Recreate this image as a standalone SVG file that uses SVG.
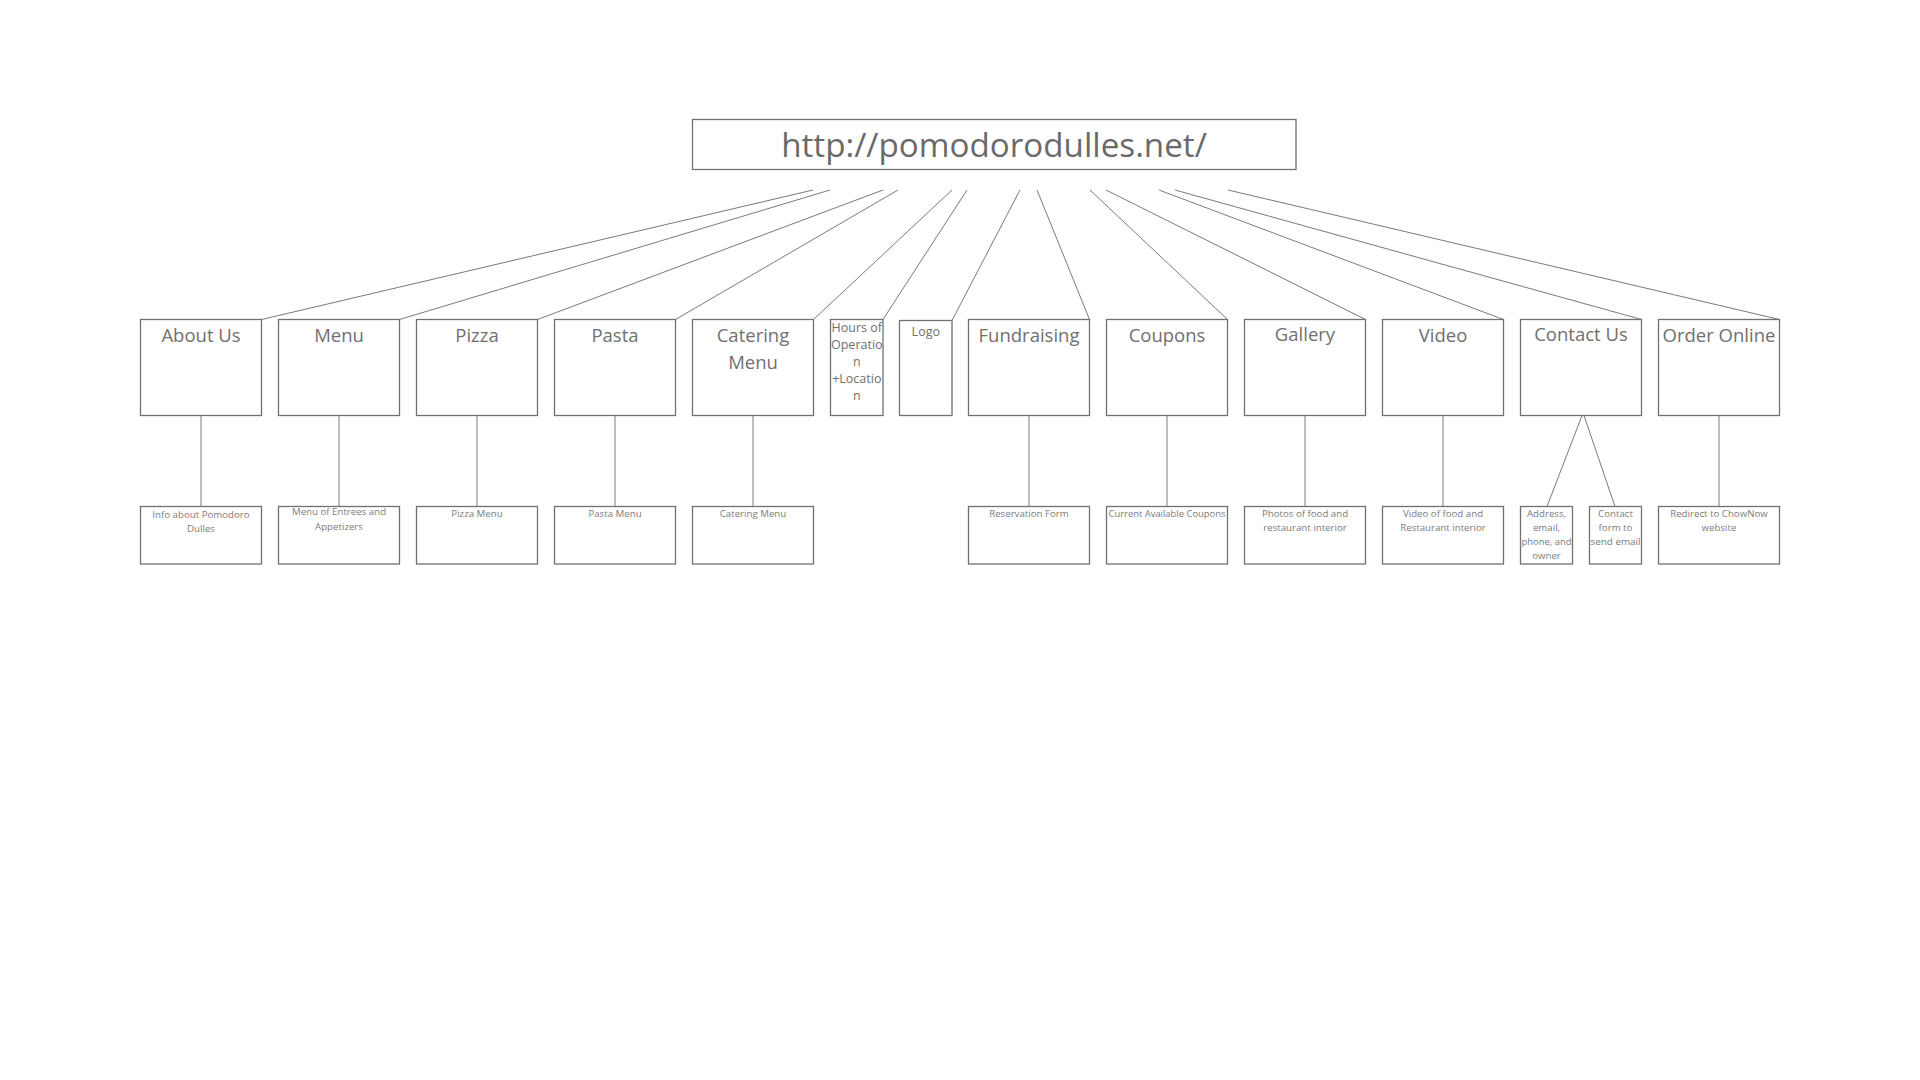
<svg xmlns="http://www.w3.org/2000/svg" width="1920" height="1080" viewBox="0 0 1920 1080">
<style>
.box{fill:#fff;stroke:#707070;stroke-width:1.3}
.ln{stroke:#7a7a7a;stroke-width:1;fill:none}
.t0{font-family:"Open Sans","Noto Sans",sans-serif;font-size:33.2px;fill:#6a6a6a;text-anchor:middle}
.t1{font-family:"Open Sans","Noto Sans",sans-serif;font-size:18.5px;fill:#707070;text-anchor:middle}
.t1s{font-family:"Open Sans","Noto Sans",sans-serif;font-size:12.5px;fill:#707070;text-anchor:middle}
.t2{font-family:"Open Sans","Noto Sans",sans-serif;font-size:9.7px;fill:#7c7c7c;text-anchor:middle}
</style>
<rect width="1920" height="1080" fill="#fff"/>
<g id="connectors">
<line class="ln" x1="813" y1="190" x2="261.5" y2="319.5"/>
<line class="ln" x1="830" y1="190" x2="399.5" y2="319.5"/>
<line class="ln" x1="883" y1="190" x2="537.5" y2="319.5"/>
<line class="ln" x1="898" y1="190" x2="675.5" y2="319.5"/>
<line class="ln" x1="952" y1="190" x2="813.5" y2="319.5"/>
<line class="ln" x1="967" y1="190" x2="883" y2="319.5"/>
<line class="ln" x1="1020" y1="190" x2="952" y2="320.5"/>
<line class="ln" x1="1037" y1="190" x2="1089.5" y2="319.5"/>
<line class="ln" x1="1090" y1="190" x2="1227.5" y2="319.5"/>
<line class="ln" x1="1106" y1="190" x2="1365.5" y2="319.5"/>
<line class="ln" x1="1159" y1="190" x2="1503.5" y2="319.5"/>
<line class="ln" x1="1175" y1="190" x2="1641.5" y2="319.5"/>
<line class="ln" x1="1228" y1="190" x2="1779.5" y2="319.5"/>
<line class="ln" x1="201" y1="415.5" x2="201" y2="506.5"/>
<line class="ln" x1="339" y1="415.5" x2="339" y2="506.5"/>
<line class="ln" x1="477" y1="415.5" x2="477" y2="506.5"/>
<line class="ln" x1="615" y1="415.5" x2="615" y2="506.5"/>
<line class="ln" x1="753" y1="415.5" x2="753" y2="506.5"/>
<line class="ln" x1="1029" y1="415.5" x2="1029" y2="506.5"/>
<line class="ln" x1="1167" y1="415.5" x2="1167" y2="506.5"/>
<line class="ln" x1="1305" y1="415.5" x2="1305" y2="506.5"/>
<line class="ln" x1="1443" y1="415.5" x2="1443" y2="506.5"/>
<line class="ln" x1="1582" y1="415.5" x2="1547" y2="506.5"/>
<line class="ln" x1="1584" y1="415.5" x2="1615" y2="506.5"/>
<line class="ln" x1="1719" y1="415.5" x2="1719" y2="506.5"/>
</g>
<g id="root">
<rect class="box" x="692.5" y="119.5" width="603.5" height="50"/>
<text class="t0" x="994" y="157">http://pomodorodulles.net/</text>
</g>
<g id="about-us"><rect class="box" x="140.5" y="319.5" width="121" height="96"/><text class="t1" x="201" y="342">About Us</text></g>
<g id="menu"><rect class="box" x="278.5" y="319.5" width="121" height="96"/><text class="t1" x="339" y="342">Menu</text></g>
<g id="pizza"><rect class="box" x="416.5" y="319.5" width="121" height="96"/><text class="t1" x="477" y="342">Pizza</text></g>
<g id="pasta"><rect class="box" x="554.5" y="319.5" width="121" height="96"/><text class="t1" x="615" y="342">Pasta</text></g>
<g id="catering-menu"><rect class="box" x="692.5" y="319.5" width="121" height="96"/><text class="t1" x="753" y="342">Catering</text><text class="t1" x="753" y="369">Menu</text></g>
<g id="hours"><rect class="box" x="830.5" y="319.5" width="52.5" height="96"/>
<text class="t1s" x="856.8" y="332">Hours of</text>
<text class="t1s" x="856.8" y="349">Operatio</text>
<text class="t1s" x="856.8" y="366">n</text>
<text class="t1s" x="856.8" y="383">+Locatio</text>
<text class="t1s" x="856.8" y="400">n</text></g>
<g id="logo"><rect class="box" x="899.5" y="320.5" width="52.5" height="95"/><text class="t1s" x="925.8" y="335.5">Logo</text></g>
<g id="fundraising"><rect class="box" x="968.5" y="319.5" width="121" height="96"/><text class="t1" x="1029" y="342">Fundraising</text></g>
<g id="coupons"><rect class="box" x="1106.5" y="319.5" width="121" height="96"/><text class="t1" x="1167" y="342">Coupons</text></g>
<g id="gallery"><rect class="box" x="1244.5" y="319.5" width="121" height="96"/><text class="t1" x="1305" y="341">Gallery</text></g>
<g id="video"><rect class="box" x="1382.5" y="319.5" width="121" height="96"/><text class="t1" x="1443" y="342">Video</text></g>
<g id="contact-us"><rect class="box" x="1520.5" y="319.5" width="121" height="96"/><text class="t1" x="1581" y="341">Contact Us</text></g>
<g id="order-online"><rect class="box" x="1658.5" y="319.5" width="121" height="96"/><text class="t1" x="1719" y="342">Order Online</text></g>

<g id="info-about"><rect class="box" x="140.5" y="506.5" width="121" height="57.5"/><text class="t2" x="201" y="518">Info about Pomodoro</text><text class="t2" x="201" y="532">Dulles</text></g>
<g id="menu-entrees"><rect class="box" x="278.5" y="506.5" width="121" height="57.5"/><text class="t2" x="339" y="515">Menu of Entrees and</text><text class="t2" x="339" y="530">Appetizers</text></g>
<g id="pizza-menu"><rect class="box" x="416.5" y="506.5" width="121" height="57.5"/><text class="t2" x="477" y="517">Pizza Menu</text></g>
<g id="pasta-menu"><rect class="box" x="554.5" y="506.5" width="121" height="57.5"/><text class="t2" x="615" y="517">Pasta Menu</text></g>
<g id="catering-menu-page"><rect class="box" x="692.5" y="506.5" width="121" height="57.5"/><text class="t2" x="753" y="517">Catering Menu</text></g>
<g id="reservation-form"><rect class="box" x="968.5" y="506.5" width="121" height="57.5"/><text class="t2" x="1029" y="517">Reservation Form</text></g>
<g id="current-coupons"><rect class="box" x="1106.5" y="506.5" width="121" height="57.5"/><text class="t2" x="1167" y="517" textLength="117" lengthAdjust="spacingAndGlyphs">Current Available Coupons</text></g>
<g id="photos"><rect class="box" x="1244.5" y="506.5" width="121" height="57.5"/><text class="t2" x="1305" y="517">Photos of food and</text><text class="t2" x="1305" y="531">restaurant interior</text></g>
<g id="video-food"><rect class="box" x="1382.5" y="506.5" width="121" height="57.5"/><text class="t2" x="1443" y="517">Video of food and</text><text class="t2" x="1443" y="531">Restaurant interior</text></g>
<g id="address"><rect class="box" x="1520.5" y="506.5" width="52" height="57.5"/>
<text class="t2" x="1546.5" y="517">Address,</text><text class="t2" x="1546.5" y="531">email,</text><text class="t2" x="1546.5" y="545" textLength="50" lengthAdjust="spacingAndGlyphs">phone, and</text><text class="t2" x="1546.5" y="559">owner</text></g>
<g id="contact-form"><rect class="box" x="1589.5" y="506.5" width="52" height="57.5"/>
<text class="t2" x="1615.5" y="517">Contact</text><text class="t2" x="1615.5" y="531">form to</text><text class="t2" x="1615.5" y="545" textLength="50" lengthAdjust="spacingAndGlyphs">send email</text></g>
<g id="chownow"><rect class="box" x="1658.5" y="506.5" width="121" height="57.5"/><text class="t2" x="1719" y="517">Redirect to ChowNow</text><text class="t2" x="1719" y="531">website</text></g>
</svg>
